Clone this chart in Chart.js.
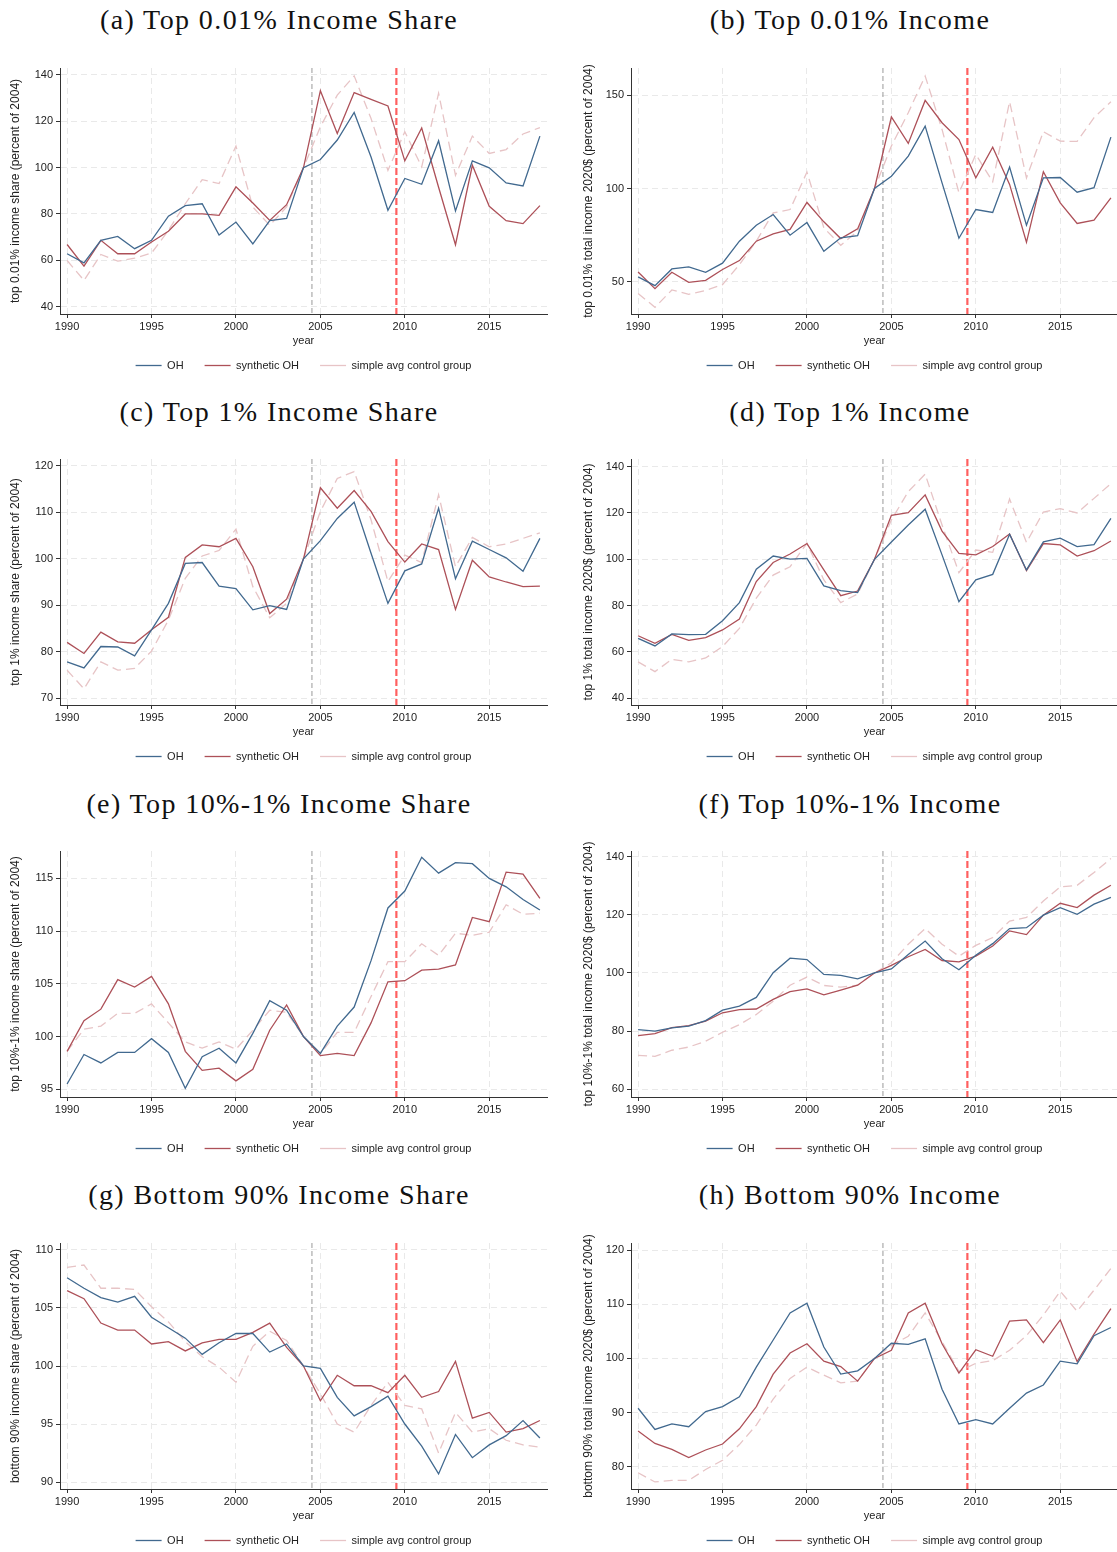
<!DOCTYPE html>
<html><head><meta charset="utf-8">
<script src="https://cdn.jsdelivr.net/npm/chart.js@4.4.1/dist/chart.umd.min.js"></script>
<style>
html,body{margin:0;padding:0;background:#fff;}
body{width:1117px;height:1552px;position:relative;overflow:hidden;}
.ttl{position:absolute;width:560px;text-align:center;font-family:"Liberation Serif",serif;font-size:28px;letter-spacing:1.4px;line-height:32px;color:#111;white-space:nowrap;}
canvas{position:absolute;}
</style></head><body>
<script>
// ---------------- data ----------------
const years = [1990,1991,1992,1993,1994,1995,1996,1997,1998,1999,2000,2001,2002,2003,2004,2005,2006,2007,2008,2009,2010,2011,2012,2013,2014,2015,2016,2017,2018];
const xTicks = [1990,1995,2000,2005,2010,2015];
const refLines = [2004.5, 2009.5];
const seriesNames = ['OH','synthetic OH','simple avg control group'];

const titles = ['(a) Top 0.01% Income Share','(b) Top 0.01% Income','(c) Top 1% Income Share','(d) Top 1% Income','(e) Top 10%-1% Income Share','(f) Top 10%-1% Income','(g) Bottom 90% Income Share','(h) Bottom 90% Income'];
const yTitles = ['top 0.01% income share (percent of 2004)','top 0.01% total income 2020$ (percent of 2004)','top 1% income share (percent of 2004)','top 1% total income 2020$ (percent of 2004)','top 10%-1% income share (percent of 2004)','top 10%-1% total income 2020$ (percent of 2004)','bottom 90% income share (percent of 2004)','bottom 90% total income 2020$ (percent of 2004)'];

const yTicksA = [40,60,80,100,120,140];
const yTicksB = [50,100,150];
const yTicksC = [70,80,90,100,110,120];
const yTicksD = [40,60,80,100,120,140];
const yTicksE = [95,100,105,110,115];
const yTicksF = [60,80,100,120,140];
const yTicksG = [90,95,100,105,110];
const yTicksH = [80,90,100,110,120];

const ohA  = [62.8,58.9,68.6,70.3,65.0,68.6,79.0,83.6,84.4,70.9,76.5,67.1,77.1,78.1,100,103.5,111.9,123.8,104.6,81.6,95.3,92.8,111.6,81.3,102.9,99.9,93.4,92.1,113.6];
const synA = [66.8,57.5,68.6,62.8,62.8,67.9,72.5,80.0,80.0,79.4,91.7,84.7,77.2,84.0,100,133.2,114.7,132.4,129.5,126.6,102.9,117.1,91.5,66.7,101.0,83.3,77.1,75.8,83.6];
const avgA = [59.9,51.3,62.5,59.6,60.9,63.1,72.9,84.4,94.8,93.1,109.3,83.0,75.1,83.0,100,117.6,131.3,139.6,121.2,98.8,115.5,100.3,132.1,96.7,113.6,106.1,107.8,114.5,117.3];

const ohB  = [52.5,47.8,56.8,57.9,55.0,59.9,71.7,80.3,86.0,74.9,81.7,66.3,73.5,74.7,100,106.6,117.4,133.5,103.0,73.3,88.7,87.1,111.5,80.3,105.7,105.9,98.0,100.4,127.6];
const synB = [55.2,46.2,55.0,49.6,50.7,56.5,61.3,71.7,75.6,78.0,92.5,82.1,73.1,78.3,100,138.4,124.2,147.3,135.3,126.3,105.7,122.2,102.2,71.1,109.0,92.3,81.2,83.0,95.0];
const avgB = [43.6,36.2,45.5,43.2,45.2,48.4,59.1,71.7,86.9,88.7,108.8,78.9,69.5,77.1,100,122.8,140.7,160.4,131.7,97.7,118.3,103.6,146.6,105.7,130.5,125.4,125.3,138.0,146.6];

const ohC  = [77.8,76.5,81.1,81.0,79.1,84.7,90.4,99.0,99.2,94.1,93.6,89.0,89.9,89.1,100,103.9,108.7,112.2,101.2,90.4,97.4,98.9,110.9,95.7,103.8,102.0,100.2,97.3,104.4];
const synC = [82.0,79.6,84.2,82.1,81.8,84.7,87.4,100.3,103.0,102.6,104.4,98.3,88.2,91.3,100,115.3,110.9,114.7,110.2,103.7,99.3,103.2,102.0,89.1,99.7,96.1,95.0,94.0,94.1];
const avgC = [76.0,72.0,77.8,76.0,76.4,80.1,86.8,95.8,100.6,101.8,106.4,94.0,87.3,90.4,100,110.2,117.3,118.8,108.4,95.1,100.8,99.2,113.8,98.3,104.6,102.6,103.2,104.4,105.6];

const ohD  = [65.9,62.6,67.8,67.5,67.6,73.5,81.3,95.7,101.4,100.1,100.4,88.5,86.5,85.6,100,107.5,114.8,121.6,101.9,81.7,91.1,93.5,110.8,95.4,107.5,109.1,105.5,106.3,117.7];
const synD = [67.0,63.7,67.6,65.0,66.2,69.5,74.2,90.4,98.6,102.3,106.8,95.4,84.3,86.3,100,119.0,120.1,127.8,112.2,102.6,101.9,105.5,110.9,95.1,106.8,106.2,101.4,103.7,107.9];
const avgD = [55.7,51.5,56.8,55.7,57.4,62.3,70.2,83.2,93.2,96.8,106.9,91.1,81.3,85.0,100,117.0,129.2,136.8,114.8,94.2,104.0,103.0,126.0,107.3,120.4,121.9,120.0,126.3,132.7];

const ohE  = [95.5,98.3,97.5,98.5,98.5,99.8,98.5,95.1,98.1,98.9,97.5,100.3,103.4,102.5,100,98.4,101.0,102.8,107.2,112.2,113.8,117.0,115.5,116.5,116.4,115.0,114.2,113.0,112.0];
const synE = [98.6,101.5,102.6,105.4,104.7,105.7,103.1,98.6,96.8,97.0,95.8,96.9,100.6,103.0,100,98.2,98.4,98.2,101.3,105.2,105.3,106.3,106.4,106.8,111.3,110.9,115.6,115.4,113.1];
const avgE = [98.6,100.7,101.0,102.2,102.2,103.1,101.3,99.5,98.9,99.5,98.8,100.6,102.5,102.3,100,98.4,100.4,100.4,103.8,107.1,107.1,108.8,107.7,109.8,109.6,109.9,112.5,111.6,111.7];

const ohF  = [80.5,80.0,81.1,81.7,83.6,87.2,88.6,91.6,100.1,105.1,104.6,99.5,99.2,98.0,100,101.4,106.4,111.0,104.9,101.1,106.1,110.1,115.3,115.6,119.9,122.5,120.2,123.7,126.0];
const synF = [78.4,79.1,81.2,81.9,83.4,86.3,87.4,87.6,90.9,93.6,94.5,92.5,94.1,95.8,100,102.6,105.6,108.1,104.3,103.8,105.8,109.3,114.5,113.2,119.9,124.0,122.5,126.8,130.2];
const avgF = [71.6,71.3,73.4,74.5,76.5,79.6,82.2,85.7,90.3,95.8,98.6,95.7,95.1,95.8,100,103.5,109.9,115.3,109.9,105.8,109.5,112.2,117.9,119.1,124.8,129.6,130.2,134.6,139.4];

const ohG  = [107.6,106.7,105.9,105.5,106.0,104.2,103.3,102.4,101.0,102.0,102.8,102.8,101.2,101.9,100,99.8,97.3,95.7,96.5,97.4,95.0,93.1,90.7,94.1,92.1,93.2,94.0,95.3,93.8];
const synG = [106.5,105.8,103.7,103.1,103.1,101.9,102.1,101.3,102.0,102.3,102.3,102.9,103.7,101.6,100,97.0,99.2,98.3,98.3,97.7,99.2,97.3,97.8,100.4,95.5,96.0,94.3,94.6,95.3];
const avgG = [108.5,108.7,106.7,106.7,106.6,105.1,103.8,102.1,100.8,99.9,98.6,101.7,103.0,102.2,100,97.6,95.0,94.3,96.6,98.6,96.6,96.3,92.5,96.0,94.3,94.6,93.6,93.2,93.0];

const ohH  = [90.8,86.9,87.9,87.4,90.2,91.1,92.9,98.4,103.4,108.4,110.2,102.1,97.1,97.7,100,102.8,102.6,103.6,94.3,87.9,88.7,87.9,90.8,93.6,95.1,99.5,99.0,104.2,105.7];
const synH = [86.6,84.3,83.2,81.7,83.1,84.2,87.0,91.1,97.1,101.0,102.7,99.5,98.5,95.8,100,101.5,108.4,110.2,102.7,97.3,101.6,100.4,106.9,107.1,102.9,107.1,99.4,104.5,109.2];
const avgH = [78.9,77.2,77.5,77.5,79.5,81.2,84.1,87.7,92.5,96.3,98.4,96.9,95.5,95.8,100,102.4,104.1,108.4,103.1,97.6,99.1,99.6,101.5,104.2,108.0,112.4,108.7,112.6,116.6];

// ---------------- panels ----------------
const panels = [
  {oh:ohA, syn:synA, avg:avgA, ticks:yTicksA, yMin:36.8, yMax:143.0},
  {oh:ohB, syn:synB, avg:avgB, ticks:yTicksB, yMin:32.6, yMax:164.7},
  {oh:ohC, syn:synC, avg:avgC, ticks:yTicksC, yMin:68.5, yMax:121.5},
  {oh:ohD, syn:synD, avg:avgD, ticks:yTicksD, yMin:37.1, yMax:143.3},
  {oh:ohE, syn:synE, avg:avgE, ticks:yTicksE, yMin:94.27, yMax:117.6},
  {oh:ohF, syn:synF, avg:avgF, ticks:yTicksF, yMin:57.3, yMax:142.0},
  {oh:ohG, syn:synG, avg:avgG, ticks:yTicksG, yMin:89.4, yMax:110.6},
  {oh:ohH, syn:synH, avg:avgH, ticks:yTicksH, yMin:75.9, yMax:121.3}
];

const FONT = 'Liberation Sans, Arial, Helvetica, sans-serif';
Chart.defaults.font.family = FONT;
Chart.defaults.color = '#222';

const rowPlotTop = [68, 459, 851, 1243];
const rowTitleY = [20, 412, 803.5, 1195];

const refLinePlugin = {
  id: 'refLines',
  beforeDatasetsDraw(chart) {
    const {ctx, chartArea, scales} = chart;
    const styles = [
      {color:'#9a9a9a', width:1, dash:[5,3]},
      {color:'#ff5f5f', width:2.2, dash:[7,3]}
    ];
    refLines.forEach((v, i) => {
      const px = scales.x.getPixelForValue(v);
      const s = styles[i];
      ctx.save();
      ctx.beginPath();
      ctx.strokeStyle = s.color;
      ctx.lineWidth = s.width;
      ctx.setLineDash(s.dash);
      ctx.moveTo(px, chartArea.top);
      ctx.lineTo(px, chartArea.bottom);
      ctx.stroke();
      ctx.restore();
    });
  }
};

function pts(vals) { return years.map((yr, i) => ({x: yr, y: vals[i]})); }

panels.forEach((p, idx) => {
  const col = idx % 2, row = Math.floor(idx / 2);

  const t = document.createElement('div');
  t.className = 'ttl';
  t.textContent = titles[idx];
  t.style.left = (col === 0 ? 0 : 570) + 'px';
  t.style.width = (col === 0 ? 558 : 560) + 'px';
  t.style.top = (rowTitleY[row] - 16) + 'px';
  document.body.appendChild(t);

  const legPad = 21;
  const padTop = 10, H = 246, xH = 25, legH = 11 + legPad + 10;
  const left = col === 0 ? 0 : 558;
  const width = col === 0 ? 558 : 560;
  const height = padTop + H + xH + legH;
  const cv = document.createElement('canvas');
  cv.width = width; cv.height = height;
  cv.style.left = left + 'px';
  cv.style.top = (rowPlotTop[row] - padTop) + 'px';
  cv.style.width = width + 'px';
  cv.style.height = height + 'px';
  document.body.appendChild(cv);

  const yW = col === 0 ? 60 : 73;
  const yTitlePad = col === 0 ? 8.8 : 23.8;
  const padRight = col === 0 ? 11 : 0;
  const gridCol = '#e9e9e9';

  new Chart(cv.getContext('2d'), {
    type: 'line',
    data: {
      datasets: [
        {label: seriesNames[0], data: pts(p.oh), borderColor: '#41698f', borderWidth: 1.3, pointRadius: 0, tension: 0, fill: false},
        {label: seriesNames[1], data: pts(p.syn), borderColor: '#ad5058', borderWidth: 1.3, pointRadius: 0, tension: 0, fill: false},
        {label: seriesNames[2], data: pts(p.avg), borderColor: '#e7c4c6', borderWidth: 1.3, borderDash: [9,5], pointRadius: 0, tension: 0, fill: false}
      ]
    },
    options: {
      responsive: false,
      animation: false,
      devicePixelRatio: 1,
      layout: {padding: {top: padTop, left: 0, right: padRight, bottom: 0}},
      scales: {
        x: {
          type: 'linear', min: 1989.58, max: 2018.42,
          afterBuildTicks: s => { s.ticks = xTicks.map(v => ({value: v})); },
          afterFit: s => { s.height = xH; },
          ticks: {callback: v => String(v), font: {size: 11}, color: '#222', padding: 2, maxRotation: 0, autoSkip: false},
          grid: {color: gridCol, lineWidth: 1, tickLength: 4, tickColor: '#333', tickWidth: 1},
          border: {display: true, color: '#333', width: 1, dash: [6,4]},
          title: {display: true, text: 'year', font: {size: 11}, color: '#222', padding: {top: 0, bottom: -8.6}}
        },
        y: {
          type: 'linear', position: 'left', min: p.yMin, max: p.yMax,
          afterBuildTicks: s => { s.ticks = p.ticks.map(v => ({value: v})); },
          afterFit: s => { s.width = yW; },
          ticks: {callback: v => String(v), font: {size: 11}, color: '#222', padding: 3},
          grid: {color: gridCol, lineWidth: 1, tickLength: 4, tickColor: '#333', tickWidth: 1},
          border: {display: true, color: '#333', width: 1, dash: [6,4]},
          title: {display: true, text: yTitles[idx], font: {size: 12}, color: '#222', padding: {top: yTitlePad, bottom: 0}}
        }
      },
      plugins: {
        tooltip: {enabled: false},
        legend: {
          display: true, position: 'bottom', fullSize: false,
          labels: {usePointStyle: true, pointStyle: 'line', pointStyleWidth: 26, padding: legPad, color: '#222', font: {size: 11}}
        }
      }
    },
    plugins: [refLinePlugin]
  });
});
</script>
</body></html>
